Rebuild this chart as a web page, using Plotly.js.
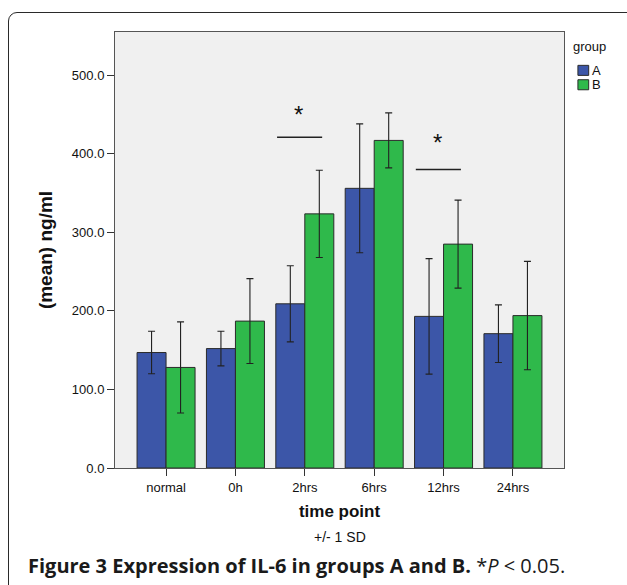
<!DOCTYPE html>
<html>
<head>
<meta charset="utf-8">
<script src="https://cdn.plot.ly/plotly-3.0.1.min.js"></script>
<style>
  html, body { margin: 0; padding: 0; background: #fff; overflow: hidden; }
  #wrap { position: relative; width: 627px; height: 585px; }
  #chart { position: absolute; left: 0; top: 0; width: 627px; height: 585px; }
  #frame { position: absolute; left: 8px; top: 12px; width: 640px; height: 600px;
           border: 1.6px solid #2a2a2a; border-radius: 9px; pointer-events: none; box-sizing: border-box; }
</style>
</head>
<body>
<div id="wrap">
  <div id="chart"></div>
  <div id="frame"></div>
</div>
<script>
// ---- data ----
const categories = ['normal', '0h', '2hrs', '6hrs', '12hrs', '24hrs'];
const groupNames = ['A', 'B'];
const meanA = [147, 152, 209, 356, 193, 171];
const sdA   = [27, 22, 48.5, 82, 73.5, 36.7];
const meanB = [128, 187, 323.5, 417, 285, 194];
const sdB   = [58, 54, 55.5, 35, 56, 69];
const sigCategories = ['2hrs', '12hrs'];
const sigLineY = [421, 380];
const sigStarY = [450, 414];
const yTicks = [0, 100, 200, 300, 400, 500];

const colors = ['#3c56a8', '#2fb94b'];
const FONT = 'Liberation Sans, Arial, sans-serif';

const errStyle = (arr) => ({ type: 'data', array: arr, visible: true, color: '#222', thickness: 1.1, width: 3.5 });

const means = [meanA, meanB];
const sds = [sdA, sdB];
const traces = groupNames.map((g, i) => ({
  type: 'bar', name: g, x: categories, y: means[i], error_y: errStyle(sds[i]),
  marker: { color: colors[i], line: { color: '#2b2b2b', width: 1 } }, showlegend: false
}));

const shapes = [];
const annotations = [];
sigCategories.forEach((c, i) => {
  const idx = categories.indexOf(c);
  shapes.push({ type: 'line', xref: 'x', yref: 'y', x0: idx - 0.40, x1: idx + 0.25,
                y0: sigLineY[i], y1: sigLineY[i], line: { color: '#222', width: 1.3 } });
  annotations.push({ xref: 'x', yref: 'y', x: idx - 0.09, y: sigStarY[i], text: '*', showarrow: false,
                     font: { family: FONT, size: 24, color: '#111' } });
});

// manual legend (group title + swatches) placed right of the plot
annotations.push({ xref: 'paper', yref: 'paper', x: 1.016, y: 0.966, xanchor: 'left', yanchor: 'middle',
  text: 'group', showarrow: false, font: { family: FONT, size: 13, color: '#111' } });
groupNames.forEach((g, i) => {
  const yc = 0.912 - i * 0.033;
  shapes.push({ type: 'rect', xref: 'paper', yref: 'paper', x0: 1.031, x1: 1.055, y0: yc - 0.0115, y1: yc + 0.0115,
                fillcolor: colors[i], line: { color: '#2b2b2b', width: 1 } });
  annotations.push({ xref: 'paper', yref: 'paper', x: 1.057, y: yc, xanchor: 'left', yanchor: 'middle',
    text: g, showarrow: false, font: { family: FONT, size: 13, color: '#111' } });
});

// figure texts
annotations.push({ xref: 'paper', yref: 'paper', x: 0.5, y: -0.158, xanchor: 'center', yanchor: 'middle',
  text: '+/- 1 SD', showarrow: false, font: { family: FONT, size: 14, color: '#111' } });
annotations.push({ xref: 'paper', yref: 'paper', x: -0.198, y: -0.224, xanchor: 'left', yanchor: 'middle',
  text: '<b>Figure 3 Expression of IL-6 in groups A and B.</b> *<i>P</i> &lt; 0.05.', showarrow: false,
  font: { family: 'Open Sans, Noto Sans, sans-serif', size: 20, color: '#1a1a1a' } });

const layout = {
  width: 627, height: 585,
  margin: { l: 115, r: 63, t: 32, b: 117 },
  paper_bgcolor: 'rgba(0,0,0,0)',
  plot_bgcolor: '#f0f0f0',
  barmode: 'group',
  bargap: 0.164,
  bargroupgap: 0,
  showlegend: false,
  xaxis: {
    type: 'category', range: [-0.736, 5.736],
    showline: true, linecolor: '#555', linewidth: 1, mirror: true,
    ticks: 'outside', ticklen: 7, tickcolor: '#333', tickwidth: 1,
    tickfont: { family: FONT, size: 13, color: '#111' },
    title: { text: '<b>time point</b>', font: { family: FONT, size: 17, color: '#111' }, standoff: 11 },
    showgrid: false, fixedrange: true
  },
  yaxis: {
    range: [0, 555], tickvals: yTicks, tickformat: '.1f',
    showline: true, linecolor: '#555', linewidth: 1, mirror: true,
    ticks: 'outside', ticklen: 7, tickcolor: '#333', tickwidth: 1,
    tickfont: { family: FONT, size: 13, color: '#111' },
    title: { text: '<b>(mean) ng/ml</b>', font: { family: FONT, size: 19, color: '#111' }, standoff: 14 },
    showgrid: false, zeroline: false, fixedrange: true
  },
  shapes: shapes,
  annotations: annotations
};

Plotly.newPlot('chart', traces, layout, { displayModeBar: false, staticPlot: true });
</script>
</body>
</html>
